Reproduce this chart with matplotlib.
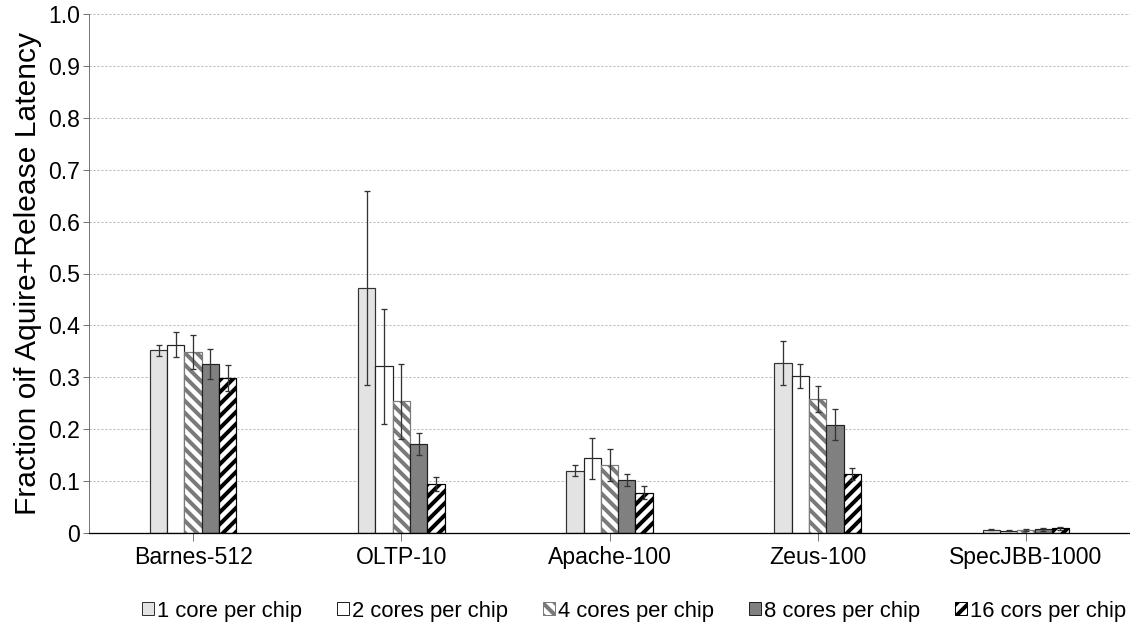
import numpy as np
import matplotlib.pyplot as plt
from matplotlib.patches import Patch

plt.rcParams['font.family'] = ['Liberation Sans', 'DejaVu Sans']
plt.rcParams['hatch.linewidth'] = 4.0

benchmarks = ['Barnes-512', 'OLTP-10', 'Apache-100', 'Zeus-100', 'SpecJBB-1000']
series = ['1 core per chip', '2 cores per chip', '4 cores per chip',
          '8 cores per chip', '16 cors per chip']

# mean values per benchmark, one list per series
core1 = [0.352, 0.472, 0.120, 0.327, 0.006]
core2 = [0.363, 0.321, 0.144, 0.303, 0.004]
core4 = [0.349, 0.254, 0.131, 0.258, 0.005]
core8 = [0.326, 0.171, 0.102, 0.209, 0.007]
core16 = [0.299, 0.094, 0.078, 0.114, 0.009]

# error bar half widths
err1 = [0.011, 0.186, 0.011, 0.042, 0.001]
err2 = [0.024, 0.111, 0.040, 0.023, 0.001]
err4 = [0.033, 0.072, 0.030, 0.025, 0.002]
err8 = [0.029, 0.021, 0.011, 0.029, 0.003]
err16 = [0.025, 0.013, 0.012, 0.012, 0.003]

values = [core1, core2, core4, core8, core16]
errors = [err1, err2, err4, err8, err16]

# face, edge, hatch
styles = [('#e3e3e3', '#333333', None),
          ('white', '#222222', None),
          ('white', '#7a7a7a', '\\\\'),
          ('#808080', '#222222', None),
          ('white', 'black', '//')]

fig = plt.figure(figsize=(1130 / 72, 627 / 72), dpi=72)
ax = fig.add_axes([89 / 1130, 94 / 627, 1 - 89 / 1130, 519 / 627])

x = np.arange(len(benchmarks))
w = 0.083
for i, (vals, errs) in enumerate(zip(values, errors)):
    fc, ec, hatch = styles[i]
    pos = x + (i - 2) * w
    ax.bar(pos, vals, width=w, color=fc, edgecolor=ec, hatch=hatch,
           linewidth=1.2, zorder=2)
    ax.errorbar(pos, vals, yerr=errs, fmt='none', ecolor='#333333',
                elinewidth=1.3, capsize=3, capthick=1.3, zorder=3)

ax.set_xlim(-0.5, 4.5)
ax.set_ylim(0, 1.0)
ax.set_yticks(np.arange(0, 1.01, 0.1))
ax.set_yticklabels(['0'] + ['%.1f' % v for v in np.arange(0.1, 1.01, 0.1)])
ax.set_xticks(x)
ax.set_xticklabels(benchmarks)
ax.tick_params(axis='y', labelsize=23, length=6, color='#555555', pad=3)
ax.tick_params(axis='x', labelsize=23, length=8, color='#555555', pad=5)
ax.yaxis.grid(True, color='#b5b5b5', linestyle=(0, (2, 2)), linewidth=1)
ax.set_axisbelow(True)

for s in ['top', 'right']:
    ax.spines[s].set_visible(False)
ax.spines['left'].set_color('#555555')
ax.spines['bottom'].set_color('black')
ax.spines['bottom'].set_linewidth(1.3)

ax.set_ylabel('Fraction oif Aquire+Release Latency', fontsize=30, labelpad=6)

handles = [Patch(facecolor=s[0], edgecolor=s[1], hatch=s[2], linewidth=1)
           for s in styles]
fig.legend(handles, series, loc='center', bbox_to_anchor=(634 / 1130, 1 - 611 / 627),
           ncol=5, frameon=False, fontsize=22, handlelength=0.55,
           handleheight=0.55, handletextpad=0.15, columnspacing=1.57)

fig.savefig('out.png', dpi=72)
